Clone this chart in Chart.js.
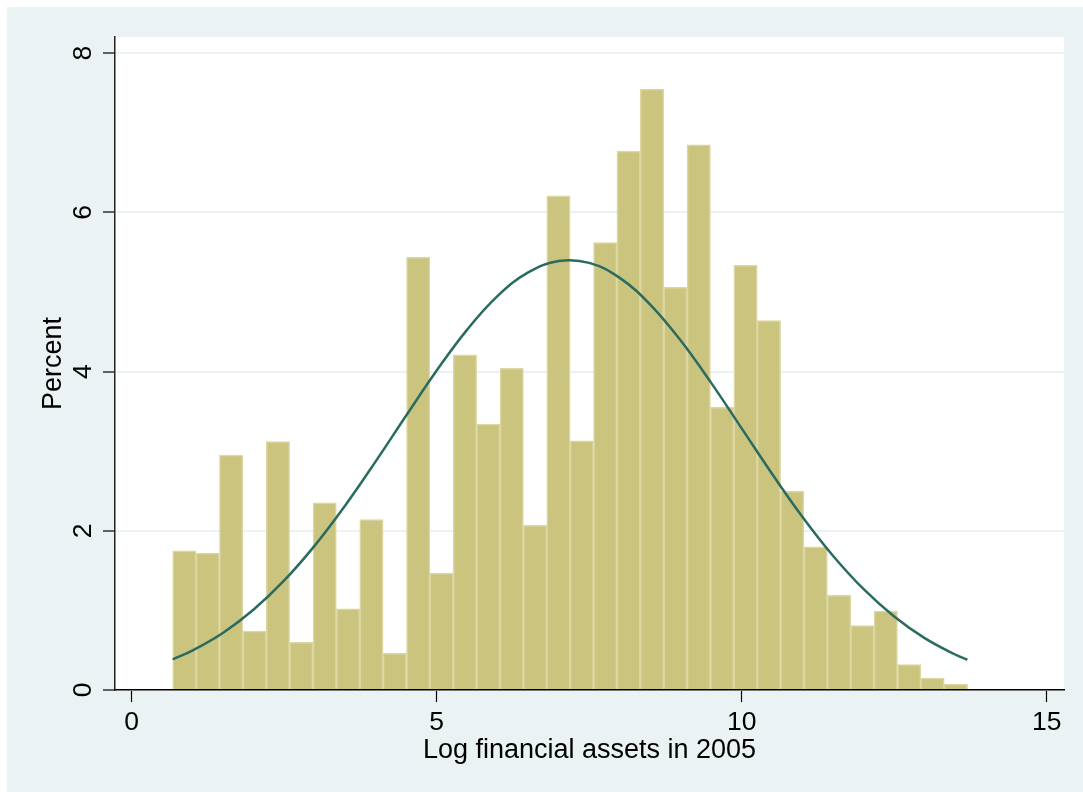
<!DOCTYPE html>
<html>
<head>
<meta charset="utf-8">
<script src="https://cdn.jsdelivr.net/npm/chart.js@4.4.1/dist/chart.umd.min.js"></script>
<style>
    html, body { margin: 0; padding: 0; background: #ffffff; }
    .chart-box { width: 1083px; height: 792px; }
</style>
</head>
<body>
<div class="chart-box"><canvas id="histChart"></canvas></div>
<script>
// bin midpoints (log financial assets in 2005)
const binCenters = [0.864, 1.247, 1.630, 2.014, 2.397, 2.780, 3.163, 3.547, 3.930, 4.313,
    4.697, 5.080, 5.463, 5.846, 6.230, 6.613, 6.996, 7.380, 7.763, 8.146,
    8.530, 8.913, 9.296, 9.679, 10.063, 10.446, 10.829, 11.213, 11.596, 11.979,
    12.362, 12.746, 13.129, 13.512];
// percent in each bin
const binPercent = [1.75, 1.72, 2.95, 0.74, 3.12, 0.60, 2.35, 1.02, 2.14, 0.46,
    5.44, 1.47, 4.21, 3.34, 4.04, 2.07, 6.21, 3.13, 5.62, 6.77,
    7.55, 5.06, 6.85, 3.55, 5.34, 4.64, 2.50, 1.80, 1.19, 0.81,
    0.99, 0.32, 0.15, 0.075];

// normal density overlay
const curveX = [0.672, 1.0, 1.5, 2.0, 2.5, 3.0, 3.5, 4.0, 4.5, 5.0, 5.5, 6.0, 6.5, 7.0,
    7.5, 8.0, 8.5, 9.0, 9.5, 10.0, 10.5, 11.0, 11.5, 12.0, 12.5, 13.0, 13.5, 13.70];
const curveY = [0.384, 0.498, 0.720, 1.011, 1.376, 1.814, 2.318, 2.872, 3.448, 4.014, 4.528, 4.951, 5.246, 5.389,
    5.366, 5.178, 4.843, 4.391, 3.859, 3.287, 2.714, 2.171, 1.684, 1.266, 0.923, 0.652, 0.446, 0.380];

const xTicks = [0, 5, 10, 15];
const yTicks = [0, 2, 4, 6, 8];

const FONT = "'Liberation Sans', Arial, sans-serif";

// stata style background: light blue outer region, white plot region
const backgroundPlugin = {
    id: 'stataBackground',
    beforeDraw(chart) {
        const ctx = chart.ctx;
        const a = chart.chartArea;
        ctx.save();
        ctx.fillStyle = '#ffffff';
        ctx.fillRect(0, 0, chart.width, chart.height);
        ctx.fillStyle = '#eaf2f3';
        ctx.fillRect(7, 7, chart.width - 7, chart.height - 7);
        ctx.fillStyle = '#ffffff';
        ctx.fillRect(a.left, a.top, a.right - a.left, a.bottom - a.top);
        ctx.restore();
    }
};

const ctx = document.getElementById('histChart').getContext('2d');
new Chart(ctx, {
    data: {
        datasets: [
            {
                type: 'line',
                data: curveX.map((x, i) => ({ x: x, y: curveY[i] })),
                borderColor: '#2b6b5f',
                borderWidth: 2.5,
                pointRadius: 0,
                tension: 0.4,
                fill: false,
                order: 0
            },
            {
                type: 'bar',
                data: binCenters.map((x, i) => ({ x: x, y: binPercent[i] })),
                backgroundColor: '#cbc47f',
                borderColor: '#dcd7a2',
                borderWidth: 1.5,
                borderSkipped: 'bottom',
                barPercentage: 1.0,
                categoryPercentage: 1.0,
                order: 1
            }
        ]
    },
    options: {
        responsive: true,
        maintainAspectRatio: false,
        animation: false,
        layout: { padding: { top: 37, right: 19, left: 0, bottom: 0 } },
        plugins: {
            legend: { display: false },
            tooltip: { enabled: false }
        },
        scales: {
            x: {
                type: 'linear',
                position: 'bottom',
                offset: false,
                min: -0.274,
                max: 15.284,
                afterBuildTicks: (scale) => { scale.ticks = xTicks.map(v => ({ value: v })); },
                afterFit: (scale) => { scale.height = 102; },
                ticks: {
                    includeBounds: false,
                    color: '#000',
                    padding: 5,
                    maxRotation: 0,
                    font: { family: FONT, size: 26.5 }
                },
                grid: {
                    offset: false,
                    drawOnChartArea: false,
                    drawTicks: true,
                    tickLength: 12,
                    tickColor: '#000',
                    tickWidth: 1.2
                },
                border: { display: true, color: '#000', width: 1.5 },
                title: {
                    display: true,
                    text: 'Log financial assets in 2005',
                    color: '#000',
                    font: { family: FONT, size: 27 },
                    padding: { top: 0, bottom: 25 }
                }
            },
            y: {
                type: 'linear',
                position: 'left',
                min: 0,
                max: 8.204,
                afterBuildTicks: (scale) => { scale.ticks = yTicks.map(v => ({ value: v })); },
                afterFit: (scale) => { scale.width = 115; },
                ticks: {
                    includeBounds: false,
                    color: '#000',
                    minRotation: 90,
                    maxRotation: 90,
                    crossAlign: 'center',
                    padding: 11.6,
                    font: { family: FONT, size: 26.5 }
                },
                grid: {
                    color: '#eaf2f3',
                    lineWidth: 2,
                    drawTicks: true,
                    tickLength: 12,
                    tickColor: '#000',
                    tickWidth: 1.2
                },
                border: { display: true, color: '#222', width: 1.5 },
                title: {
                    display: true,
                    text: 'Percent',
                    color: '#000',
                    font: { family: FONT, size: 27 },
                    padding: { top: 37, bottom: 0 }
                }
            }
        }
    },
    plugins: [backgroundPlugin]
});
</script>
</body>
</html>
